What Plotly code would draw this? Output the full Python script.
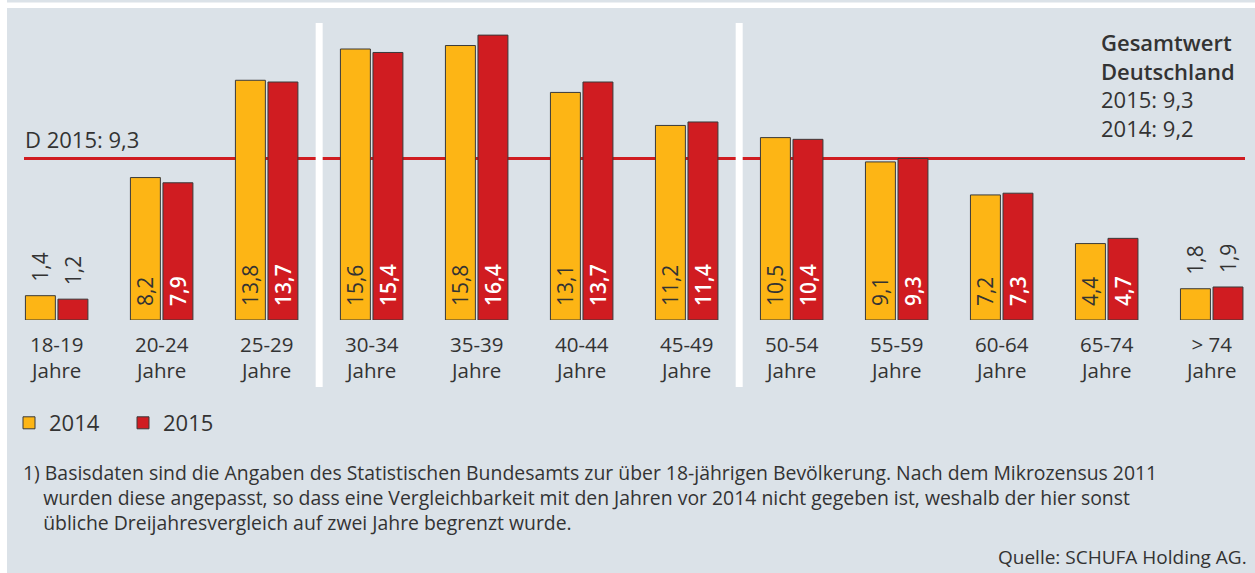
import plotly.graph_objects as go

categories = ["18-19", "20-24", "25-29", "30-34", "35-39", "40-44", "45-49",
              "50-54", "55-59", "60-64", "65-74", "> 74"]
tick_suffix = "Jahre"
v2014 = [1.4, 8.2, 13.8, 15.6, 15.8, 13.1, 11.2, 10.5, 9.1, 7.2, 4.4, 1.8]
v2015 = [1.2, 7.9, 13.7, 15.4, 16.4, 13.7, 11.4, 10.4, 9.3, 7.3, 4.7, 1.9]
series_names = ["2014", "2015"]
avg_2015 = 9.3
avg_2014 = 9.2
separators_after = ["25-29", "45-49"]

footnote = [
    "1) Basisdaten sind die Angaben des Statistischen Bundesamts zur über 18-jährigen Bevölkerung. Nach dem Mikrozensus 2011",
    "wurden diese angepasst, so dass eine Vergleichbarkeit mit den Jahren vor 2014 nicht gegeben ist, weshalb der hier sonst",
    "übliche Dreijahresvergleich auf zwei Jahre begrenzt wurde.",
]
source = "Quelle: SCHUFA Holding AG."

YELLOW = "#fdb515"
RED = "#d01c21"
PANEL = "#dbe2e8"
TXT = "#333333"
FONT = "Open Sans"

W, H = 1255, 573
L, R, T, B = 24, 10, 16, 253
PW = W - L - R
PH = H - T - B


def px(x):
    return (x - L) / PW


def py(y):
    return (H - B - y) / PH


def positions(vals):
    return ["outside" if v < 3 else "inside" for v in vals]


def fmt(v):
    return f"{v:.1f}".replace(".", ",")


fig = go.Figure()
for name, vals, col, intxt, wt in [(series_names[0], v2014, YELLOW, TXT, 400),
                                   (series_names[1], v2015, RED, "white", 600)]:
    fig.add_trace(go.Bar(
        x=categories, y=vals, name=name,
        marker=dict(color=col, line=dict(color="#3a3a3a", width=1)),
        texttemplate="\u00a0\u00a0%{y:.1f}",
        textposition=positions(vals),
        insidetextanchor="start",
        textangle=-90,
        constraintext="none",
        insidetextfont=dict(color=intxt, size=21, family=FONT, weight=wt),
        outsidetextfont=dict(color=TXT, size=21, family=FONT),
        cliponaxis=False,
        hoverinfo="skip",
    ))

shapes = [
    dict(type="rect", xref="paper", yref="paper", x0=px(7), x1=px(W + 5),
         y0=py(8), y1=py(H + 5), fillcolor=PANEL, line=dict(width=0), layer="below"),
    dict(type="rect", xref="paper", yref="paper", x0=px(7), x1=px(W + 5),
         y0=py(2.5), y1=py(-2), fillcolor=PANEL, line=dict(width=0), layer="below"),
    dict(type="line", xref="paper", yref="y", x0=0, x1=1, y0=avg_2015, y1=avg_2015,
         line=dict(color=RED, width=3), layer="below"),
]
for c in separators_after:
    i = categories.index(c) + 0.5
    shapes.append(dict(type="line", xref="x", yref="paper", x0=i, x1=i,
                       y0=py(23), y1=py(387), line=dict(color="white", width=7),
                       layer="below"))

semi = "<span style='font-weight:600'>{}</span>"
block = "<br>".join([semi.format("Gesamtwert"), semi.format("Deutschland"),
                     f"2015: {fmt(avg_2015)}", f"2014: {fmt(avg_2014)}"])
indent = "\u00a0" * 4
foot_text = "<br>".join([footnote[0]] + [indent + t for t in footnote[1:]])

annotations = [
    dict(xref="paper", yref="paper", x=px(23), y=py(139), xanchor="left", yanchor="middle",
         text=f"D 2015: {fmt(avg_2015)}", showarrow=False,
         font=dict(size=22, color=TXT, family=FONT)),
    dict(xref="paper", yref="paper", x=px(1099), y=py(85), xanchor="left", yanchor="middle",
         text=block, align="left", showarrow=False,
         font=dict(size=22, color=TXT, family=FONT)),
    dict(xref="paper", yref="paper", x=px(21), y=py(497), xanchor="left", yanchor="middle",
         text=foot_text, align="left", showarrow=False,
         font=dict(size=19.4, color=TXT, family=FONT)),
    dict(xref="paper", yref="paper", x=px(1249), y=py(557), xanchor="right", yanchor="middle",
         text=source, showarrow=False, font=dict(size=19, color=TXT, family=FONT)),
]

fig.update_layout(
    width=W, height=H,
    margin=dict(l=L, r=R, t=T, b=B, pad=0, autoexpand=False),
    paper_bgcolor="white", plot_bgcolor="rgba(0,0,0,0)",
    separators=", ",
    barmode="group", bargap=0.38, bargroupgap=0.08,
    font=dict(family=FONT, color=TXT, size=20),
    showlegend=True,
    legend=dict(orientation="h", x=px(9), y=py(423), xanchor="left", yanchor="middle",
                bgcolor="rgba(0,0,0,0)", font=dict(size=22, color=TXT, family=FONT),
                traceorder="normal", entrywidth=69, entrywidthmode="pixels"),
    shapes=shapes,
    annotations=annotations,
    xaxis=dict(type="category", range=[-0.311, 11.317], showgrid=False, zeroline=False,
               showline=False, ticks="", tickvals=categories,
               ticktext=[f"{c}<br>{tick_suffix}" for c in categories],
               ticklabelstandoff=10, automargin=False,
               tickfont=dict(size=20.5, color=TXT, family=FONT), fixedrange=True),
    yaxis=dict(range=[0, 17.5], visible=False, fixedrange=True, automargin=False),
)

fig.write_html(
    "out.html",
    config={"displayModeBar": False},
    post_script="document.body.style.margin='0';document.body.style.overflow='hidden';",
)
